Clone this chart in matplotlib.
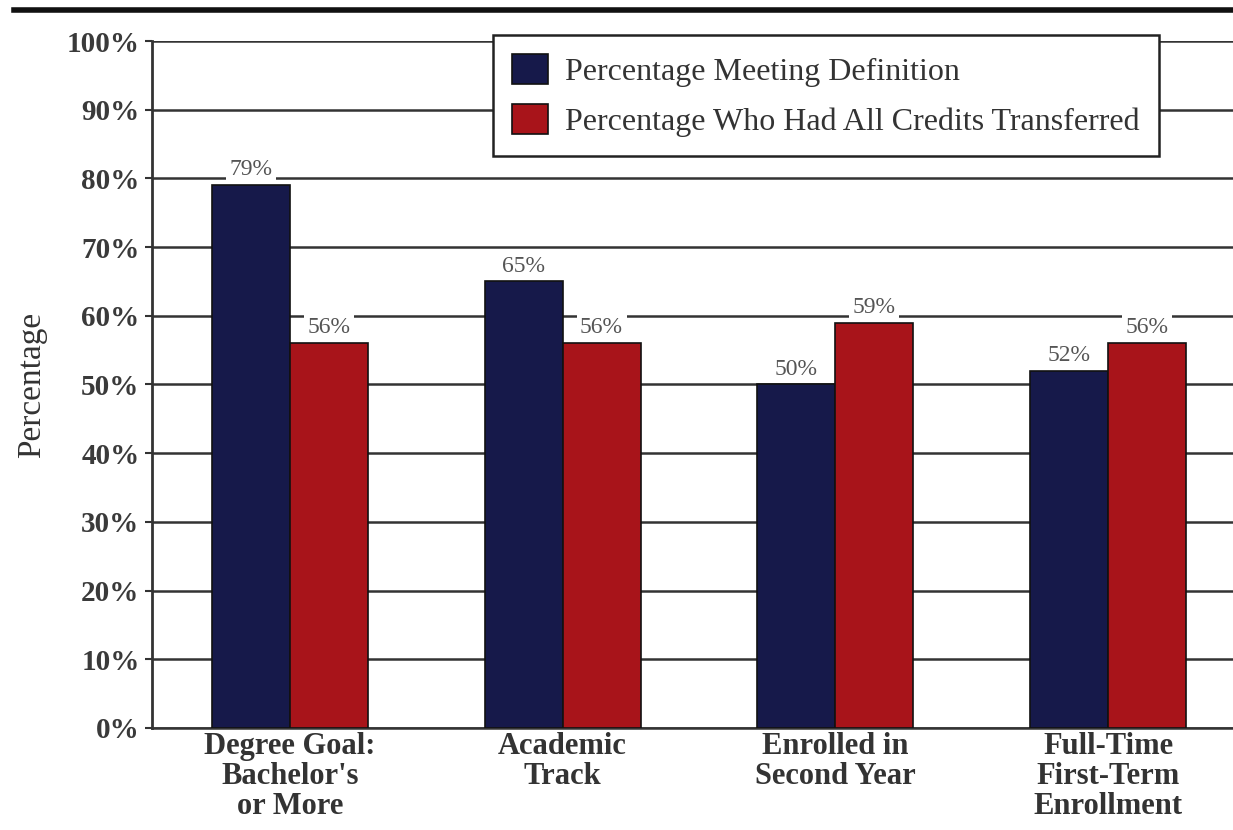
import matplotlib.pyplot as plt
import matplotlib.lines as mlines
import numpy as np

# data
categories = ["Degree Goal:\nBachelor's\nor More", "Academic\nTrack",
              "Enrolled in\nSecond Year", "Full-Time\nFirst-Term\nEnrollment"]
meeting_def = [79, 65, 50, 52]
all_transferred = [56, 56, 59, 56]
series_names = ["Percentage Meeting Definition",
                "Percentage Who Had All Credits Transferred"]

navy = "#16194a"
red = "#a8141a"

plt.rcParams['font.family'] = ['Liberation Serif', 'DejaVu Serif']

fig = plt.figure(figsize=(12.33, 8.3), dpi=100)
ax = fig.add_axes([0.1233, 0.1229, 0.8767, 0.8277])

x = np.arange(len(categories))
w = 0.286
b1 = ax.bar(x - w / 2, meeting_def, w, color=navy, edgecolor="#111111",
            linewidth=1.2, zorder=3, label=series_names[0])
b2 = ax.bar(x + w / 2, all_transferred, w, color=red, edgecolor="#111111",
            linewidth=1.2, zorder=3, label=series_names[1])

for bars, vals in [(b1, meeting_def), (b2, all_transferred)]:
    for bar, v in zip(bars, vals):
        ax.text(bar.get_x() + bar.get_width() / 2, v + 0.7, f"{v}%",
                ha='center', va='bottom', fontsize=17, color="#555555",
                zorder=4,
                bbox=dict(facecolor='white', edgecolor='none', pad=2.5))

ax.set_ylim(0, 100)
ax.set_xlim(-0.505, 3.458)
ax.set_yticks(range(0, 101, 10))
ax.set_yticklabels([f"{v}%" for v in range(0, 101, 10)],
                   fontsize=21, fontweight='bold', color="#3a3a3a")
ax.set_xticks(x)
ax.set_xticklabels(categories, fontsize=22, fontweight='bold',
                   color="#333333", linespacing=1.05)
ax.tick_params(axis='x', length=0, pad=3)
ax.tick_params(axis='y', length=5, width=1.5, color="#333333", pad=4)
ax.yaxis.grid(True, color="#333333", linewidth=1.8, zorder=0)
ax.set_axisbelow(True)
for s in ['top', 'right']:
    ax.spines[s].set_visible(False)
ax.spines['left'].set_linewidth(2)
ax.spines['left'].set_color("#333333")
ax.spines['bottom'].set_linewidth(1.8)
ax.spines['bottom'].set_color("#333333")

ax.set_ylabel("Percentage", fontsize=24, color="#333333", labelpad=14)

leg = ax.legend(loc='upper left', bbox_to_anchor=(0.3154, 1.0087),
                borderaxespad=0, fontsize=23, frameon=True, fancybox=False,
                edgecolor="#222222", framealpha=1, borderpad=0.6,
                handlelength=1.12, handleheight=1.05, handletextpad=0.55,
                labelspacing=0.55)
leg.get_frame().set_linewidth(1.8)
for t in leg.get_texts():
    t.set_color("#333333")
leg.set_zorder(5)

# thick rule across the top
fig.add_artist(mlines.Line2D([0.011, 1.0], [0.988, 0.988], color="#111111",
                             linewidth=4))

fig.savefig("out.png", dpi=100)
